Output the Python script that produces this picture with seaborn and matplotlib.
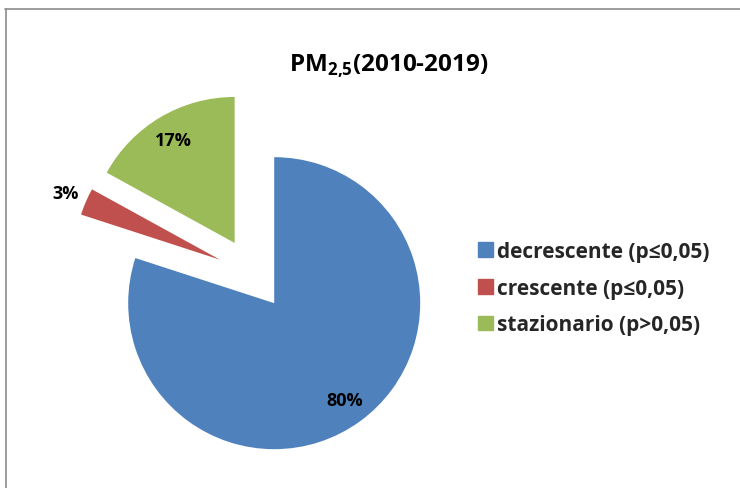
import matplotlib
matplotlib.use("Agg")
import matplotlib.pyplot as plt
import seaborn as sns
import numpy as np

sns.set_theme(style="white")
plt.rcParams["font.family"] = ["Open Sans", "DejaVu Sans"]
plt.rcParams["mathtext.fontset"] = "custom"
plt.rcParams["mathtext.bf"] = "Open Sans:bold"
plt.rcParams["mathtext.rm"] = "Open Sans:bold"

categories = ["decrescente (p≤0,05)", "crescente (p≤0,05)", "stazionario (p>0,05)"]
shares = [80, 3, 17]
colors = ["#4F81BD", "#C0504D", "#9BBB59"]
title = "PM$_{\\mathbf{2{,}5}}$(2010-2019)"

W, H = 740, 489
fig = plt.figure(figsize=(W / 100, H / 100), dpi=100)
fig.patch.set_facecolor("white")

# chart-area frame (top and left edges visible)
fig.add_artist(plt.Line2D([5 / W, 1], [1 - 9.5 / H, 1 - 9.5 / H], color="#8c8c8c", lw=1.2))
fig.add_artist(plt.Line2D([5.5 / W, 5.5 / W], [0, 1 - 9.5 / H], color="#8c8c8c", lw=1.2))

# pie axes: radius 1 -> 146 px, centre at (253, 275) px
R = 146
size = 400
cx, cy = 253, 275
ax = fig.add_axes([(cx - size / 2) / W, (H - cy - size / 2) / H, size / W, size / H])

wedges, texts, autotexts = ax.pie(
    shares,
    colors=colors,
    startangle=90,
    counterclock=False,
    explode=[0.247] * len(shares),
    autopct="%d%%",
    pctdistance=0.82,
    textprops=dict(fontsize=13, fontweight="bold", color="black"),
    wedgeprops=dict(linewidth=0),
)
lim = size / (2 * R)
ax.set_xlim(-lim, lim)
ax.set_ylim(-lim, lim)
ax.set_aspect("equal")
ax.axis("off")
for w in wedges:
    w.set_clip_on(False)

# small slice: label placed outside its wedge, along the wedge's mid-angle
for w, t, v in zip(wedges, autotexts, shares):
    if v < 5:
        ang = np.deg2rad((w.theta1 + w.theta2) / 2)
        c = w.center
        t.set_position((c[0] + 1.15 * np.cos(ang), c[1] + 1.15 * np.sin(ang)))

fig.text(389 / W, 1 - 72 / H, title, ha="center", va="baseline",
         fontsize=17.5, fontweight="bold", color="black")

handles = [plt.Rectangle((0, 0), 1, 1, color=c) for c in colors]
leg = fig.legend(
    handles, categories,
    loc="center left", bbox_to_anchor=(478 / W, 1 - 289 / H),
    frameon=False, prop=dict(weight="bold", size=15),
    handlelength=0.7, handleheight=0.7, handletextpad=0.2,
    labelspacing=0.75, borderaxespad=0, borderpad=0,
)

fig.savefig("out.png", dpi=100, facecolor="white")
